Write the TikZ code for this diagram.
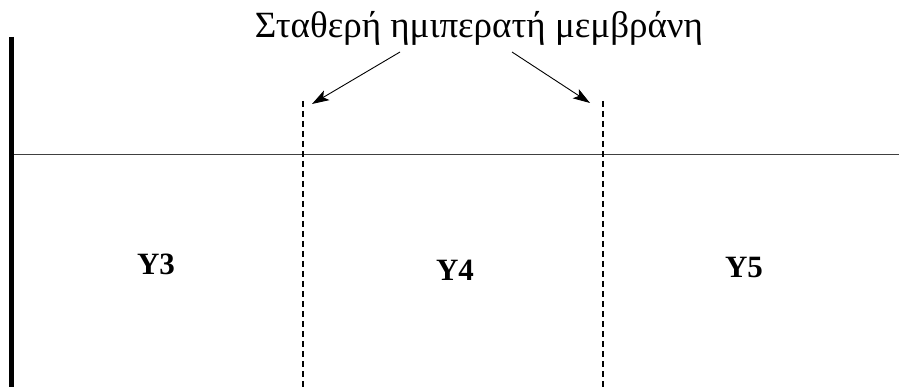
\documentclass[tikz,border=0pt]{standalone}
\usepackage{fontspec}
\setmainfont{Liberation Serif}
\newfontfamily\greekfont[Script=Greek]{Liberation Serif}
\usetikzlibrary{arrows.meta}

\tikzset{
  wall/.style={line width=5pt},
  level/.style={line width=1pt, black!75},
  membrane/.style={line width=1.6pt, dash pattern=on 6pt off 4pt},
  pointer/.style={line width=0.9pt, -{Stealth[length=17pt, width=11pt, inset=4pt]}},
  cell/.style={font=\fontsize{31}{34}\selectfont\bfseries}
}

\begin{document}
\begin{tikzpicture}[x=1pt, y=-1pt]
  \useasboundingbox (0,0) rectangle (899,387);

  % --- points ---
  \coordinate (wtop) at (11,37);
  \coordinate (wbot) at (11,387);
  \coordinate (lend) at (899,155);
  \coordinate (m1top) at (303,101);
  \coordinate (m1bot) at (303,387);
  \coordinate (m2top) at (603,101);
  \coordinate (m2bot) at (603,387);
  \coordinate (a1) at (400,52);
  \coordinate (a2) at (512,52);
  \coordinate (t1) at (312,104);
  \coordinate (t2) at (590,103);

  % --- lines ---
  \draw[level] (wtop |- lend) -- (lend);
  \draw[wall] (wtop) -- (wbot);
  \draw[membrane] (m1top) -- (m1bot);
  \draw[membrane] (m2top) -- (m2bot);

  % --- label and arrows ---
  \node[font=\greekfont\fontsize{37}{40}\selectfont] (title) at (479,28) {Σταθερή ημιπερατή μεμβράνη};
  \draw[pointer] (a1) -- (t1);
  \draw[pointer] (a2) -- (t2);

  % --- regions ---
  \node[cell] (y3) at (156,264) {Y3};
  \node[cell] (y4) at (455,270) {Y4};
  \node[cell] (y5) at (744,268) {Y5};
\end{tikzpicture}
\end{document}
